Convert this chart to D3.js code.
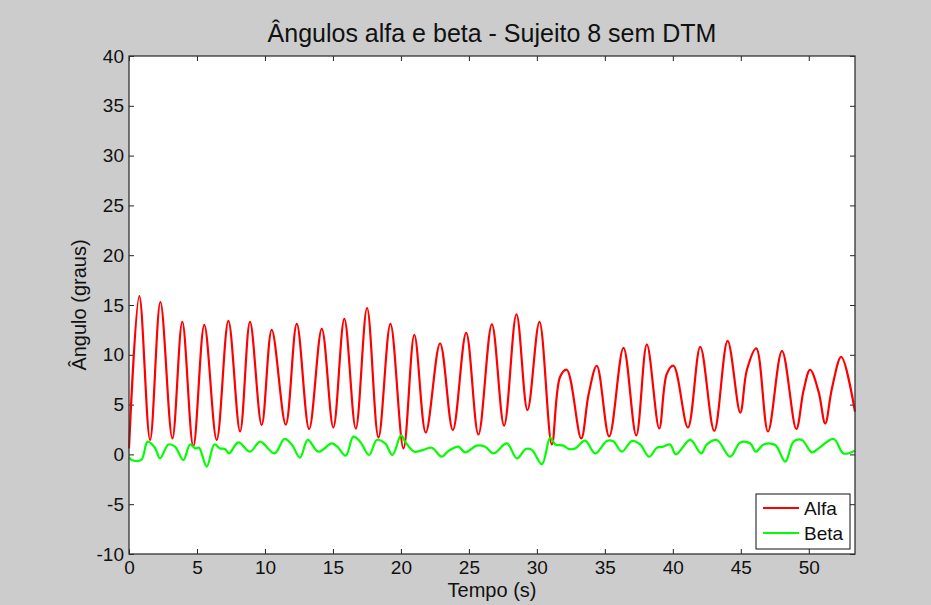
<!DOCTYPE html>
<html>
<head>
<meta charset="utf-8">
<script src="https://cdn.jsdelivr.net/npm/d3@7"></script>
<style>
  html, body { margin: 0; padding: 0; background: #cccccc; }
  svg { display: block; font-family: "Liberation Sans", Arial, sans-serif; }
</style>
</head>
<body>
<svg width="931" height="605"></svg>
<script>
// Alfa angle, [time (s), degrees]
const alfa = [
  [0, 0.6], [0.76, 15.9], [1.55, 1.45], [2.31, 15.3], [3.19, 1.6], [3.92, 13.3],
  [4.73, 0.8], [5.54, 13.0], [6.45, 1.45], [7.31, 13.4], [8.17, 2.3], [8.9, 13.3],
  [9.76, 2.95], [10.5, 12.5], [11.53, 3.0], [12.34, 13.1], [13.25, 2.55], [14.18, 12.6],
  [15.03, 2.7], [15.84, 13.6], [16.68, 2.6], [17.51, 14.7], [18.35, 1.7], [19.23, 13.1],
  [20.19, 0.6], [20.99, 12.0], [21.83, 2.2], [22.88, 11.15], [23.82, 2.45], [24.8, 12.2],
  [25.7, 2.0], [26.69, 13.05], [27.59, 2.9], [28.5, 14.07], [29.31, 4.45], [30.19, 13.3],
  [31.1, 1.0], [31.71, 7.8], [32.2, 8.5], [33.26, 1.6], [33.8, 6.0], [34.41, 8.9],
  [35.32, 1.8], [36.37, 10.7], [37.31, 1.9], [38.09, 11.05], [39.0, 2.6], [39.56, 8.1],
  [40.05, 8.9], [41.11, 2.7], [42.02, 10.8], [43.05, 2.35], [44.03, 11.4], [44.96, 4.2],
  [45.45, 8.5], [46.14, 10.65], [47.0, 2.3], [48.03, 10.4], [49.08, 2.55], [49.62, 6.45],
  [50.1, 8.5], [50.72, 6.3], [51.21, 3.1], [51.7, 6.6], [52.39, 9.8], [53.4, 4.3]
];

// Beta angle, [time (s), degrees]
const beta = [
  [0, -0.3], [0.2, -0.56], [0.9, -0.56], [1.37, 1.28], [1.91, 0.67], [2.28, -0.4],
  [2.9, 1.0], [3.38, 0.78], [4.0, -0.56], [4.49, 1.0], [4.88, 0.6], [5.15, 0.67],
  [5.72, -1.23], [6.28, 1.0], [6.7, 0.6], [7.06, 0.55], [7.36, 0.1], [8.04, 1.2],
  [8.9, 0.27], [9.64, 1.28], [10.7, 0.1], [11.43, 1.55], [11.97, 1.0], [12.58, -0.33],
  [13.15, 1.45], [13.93, 0.27], [14.91, 1.1], [15.3, 0.8], [15.94, -0.13], [16.5, 1.78],
  [17.0, 1.28], [17.66, -0.06], [18.23, 1.45], [18.84, 1.1], [19.38, -0.06], [20.01, 1.95],
  [20.3, 1.3], [20.99, 0.27], [21.53, 0.4], [22.27, 0.67], [23.0, -0.23], [23.5, 0.35],
  [24.23, 0.78], [24.72, 0.2], [25.58, 0.88], [26.2, 0.77], [26.81, 0.1], [27.79, 1.1],
  [28.53, -0.4], [29.19, 0.55], [29.63, 0.45], [30.37, -1.0], [30.98, 1.68], [31.35, 1.0],
  [31.96, 0.88], [32.33, 0.55], [32.82, 0.6], [33.55, 1.38], [34.29, 0.1], [35.15, 1.35],
  [35.64, 1.3], [36.25, 0.27], [36.99, 1.35], [37.6, 1.0], [38.26, -0.23], [38.83, 0.67],
  [39.3, 0.78], [39.8, 1.0], [40.23, 0.0], [41.28, 1.45], [42.09, 0.1], [42.5, 1.0],
  [43.24, 1.45], [44.22, -0.23], [44.96, 1.2], [45.7, 1.1], [46.11, 0.27], [46.68, 1.0],
  [47.53, 0.94], [48.27, -0.73], [48.88, 1.28], [49.5, 1.45], [50.23, 0.2], [50.72, 0.6],
  [51.83, 1.55], [52.56, 0.1], [53.4, 0.37]
];

const xTicks = [0, 5, 10, 15, 20, 25, 30, 35, 40, 45, 50];
const yTicks = [-10, -5, 0, 5, 10, 15, 20, 25, 30, 35, 40];
const seriesNames = ['Alfa', 'Beta'];
const seriesColors = ['#ff0000', '#00ff00'];

const svg = d3.select('svg');
const margin = { left: 129, right: 76, top: 56, bottom: 51 };
const width = 931 - margin.left - margin.right;
const height = 605 - margin.top - margin.bottom;

const x = d3.scaleLinear().domain([0, 53.4]).range([0, width]);
const y = d3.scaleLinear().domain([-10, 40]).range([height, 0]);

const g = svg.append('g').attr('transform', `translate(${margin.left},${margin.top})`);

g.append('rect')
  .attr('width', width)
  .attr('height', height)
  .attr('fill', '#fff');

// ticks pointing inward on all four sides
const tick = 5;
const fmt = d => String(d); // plain hyphen for negatives, like the original
g.append('g')
  .attr('transform', `translate(0,${height})`)
  .call(d3.axisBottom(x).tickValues(xTicks).tickSize(-tick).tickPadding(7).tickFormat(fmt));
g.append('g')
  .call(d3.axisTop(x).tickValues(xTicks).tickSize(-tick).tickFormat(''));
g.append('g')
  .call(d3.axisLeft(y).tickValues(yTicks).tickSize(-tick).tickPadding(5).tickFormat(fmt));
g.append('g')
  .attr('transform', `translate(${width},0)`)
  .call(d3.axisRight(y).tickValues(yTicks).tickSize(-tick).tickFormat(''));

g.selectAll('.domain').remove();
g.selectAll('.tick line').attr('stroke', '#222');
g.selectAll('.tick text').attr('fill', '#111').style('font-size', '19px');

const line = d3.line()
  .x(d => x(d[0]))
  .y(d => y(d[1]))
  .curve(d3.curveCatmullRom.alpha(0.5));

[alfa, beta].forEach((data, i) => {
  g.append('path')
    .datum(data)
    .attr('fill', 'none')
    .attr('stroke', seriesColors[i])
    .attr('stroke-width', 2.2)
    .attr('stroke-linejoin', 'round')
    .attr('d', line);
});

// axes box
g.append('rect')
  .attr('width', width)
  .attr('height', height)
  .attr('fill', 'none')
  .attr('stroke', '#333')
  .attr('stroke-width', 1.3);

// legend
const legend = g.append('g').attr('transform', `translate(${width - 99},${height - 60})`);
legend.append('rect')
  .attr('width', 94)
  .attr('height', 55)
  .attr('fill', '#fff')
  .attr('stroke', '#111')
  .attr('stroke-width', 1);
seriesNames.forEach((name, i) => {
  const yy = 14 + i * 25;
  legend.append('line')
    .attr('x1', 7).attr('x2', 43)
    .attr('y1', yy).attr('y2', yy)
    .attr('stroke', seriesColors[i])
    .attr('stroke-width', 2);
  legend.append('text')
    .attr('x', 48)
    .attr('y', yy + 7)
    .attr('fill', '#111')
    .style('font-size', '19px')
    .text(name);
});

svg.append('text')
  .attr('x', margin.left + width / 2)
  .attr('y', 42)
  .attr('text-anchor', 'middle')
  .attr('fill', '#111')
  .style('font-size', '25px')
  .text('Ângulos alfa e beta - Sujeito 8 sem DTM');

svg.append('text')
  .attr('x', margin.left + width / 2)
  .attr('y', 597)
  .attr('text-anchor', 'middle')
  .attr('fill', '#111')
  .style('font-size', '20px')
  .text('Tempo (s)');

svg.append('text')
  .attr('transform', `translate(86,${margin.top + height / 2}) rotate(-90)`)
  .attr('text-anchor', 'middle')
  .attr('fill', '#111')
  .style('font-size', '20px')
  .text('Ângulo (graus)');
</script>
</body>
</html>
